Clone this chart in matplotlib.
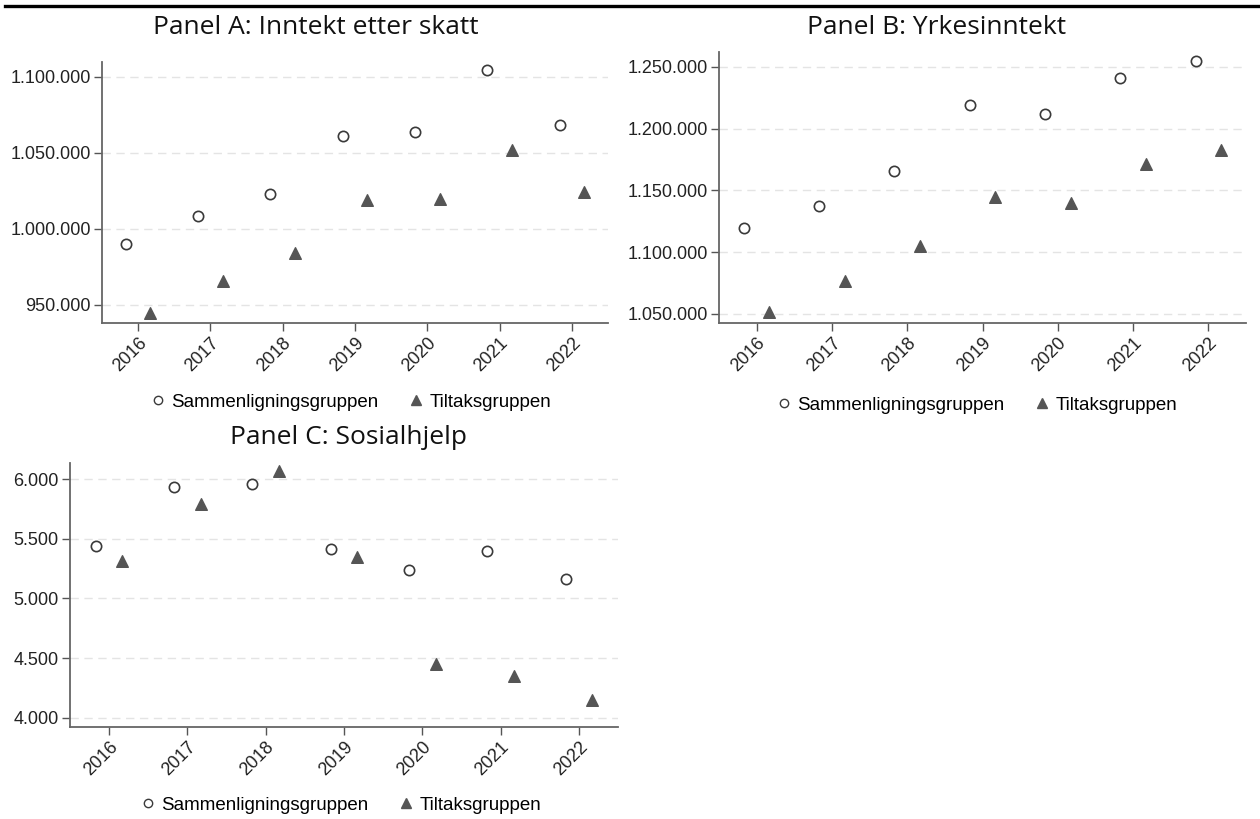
import matplotlib
matplotlib.use("Agg")
import matplotlib.pyplot as plt
from matplotlib.lines import Line2D
from matplotlib.ticker import FuncFormatter

# data (lest av fra figuren)
years = [2016, 2017, 2018, 2019, 2020, 2021, 2022]

inntekt_sammen = [990100, 1008300, 1023000, 1060700, 1063800, 1104400, 1068400]
inntekt_tiltak = [944300, 965600, 984200, 1018700, 1019700, 1051750, 1023900]

yrke_sammen = [1119650, 1137600, 1165600, 1219100, 1211800, 1241100, 1254600]
yrke_tiltak = [1051350, 1076600, 1105400, 1144600, 1140000, 1171500, 1182500]

sosial_sammen = [5438, 5936, 5955, 5413, 5242, 5396, 5161]
sosial_tiltak = [5312, 5790, 6067, 5346, 4452, 4352, 4151]

labels = ["Sammenligningsgruppen", "Tiltaksgruppen"]

W, H = 1260, 819
plt.rcParams["font.family"] = ["Liberation Sans", "DejaVu Sans"]

fig = plt.figure(figsize=(W / 100, H / 100), dpi=100)


def px_axes(left, right, top, bottom):
    return fig.add_axes([left / W, 1 - bottom / H, (right - left) / W, (bottom - top) / H])


def dotsep(v, pos):
    return f"{int(round(v)):,}".replace(",", ".")


def panel(ax, sammen, tiltak, yticks, ylim):
    off = 0.17
    ax.scatter([y - off for y in years], sammen, marker="o", s=55,
               facecolors="white", edgecolors="#3a3a3a", linewidths=1.2, zorder=3)
    ax.scatter([y + off for y in years], tiltak, marker="^", s=70,
               color="#555555", edgecolors="#555555", zorder=3)
    ax.set_xlim(2015.5, 2022.5)
    ax.set_ylim(*ylim)
    ax.set_xticks(years)
    ax.set_xticklabels([str(y) for y in years], rotation=45, ha="right",
                       rotation_mode="anchor")
    ax.set_yticks(yticks)
    ax.yaxis.set_major_formatter(FuncFormatter(dotsep))
    ax.tick_params(axis="both", labelsize=13, length=6, width=1,
                   color="#555555", labelcolor="#222222", pad=2)
    ax.grid(axis="y", color="#e4e4e4", linestyle=(0, (6, 4)), linewidth=1)
    ax.set_axisbelow(True)
    for s in ["top", "right"]:
        ax.spines[s].set_visible(False)
    for s in ["left", "bottom"]:
        ax.spines[s].set_color("#666666")
        ax.spines[s].set_linewidth(1.3)


def legend_at(cx, cy):
    handles = [
        Line2D([], [], marker="o", linestyle="none", markersize=6,
               markerfacecolor="white", markeredgecolor="#3a3a3a", markeredgewidth=1),
        Line2D([], [], marker="^", linestyle="none", markersize=7,
               color="#555555"),
    ]
    fig.legend(handles, labels, loc="center", bbox_to_anchor=(cx / W, 1 - cy / H),
               ncol=2, frameon=False, fontsize=13.5, handletextpad=0.2,
               columnspacing=1.5, handlelength=1.0)


title_font = ["Open Sans", "DejaVu Sans"]

# Panel A
axA = px_axes(102, 608, 62, 323)
panel(axA, inntekt_sammen, inntekt_tiltak,
      [950000, 1000000, 1050000, 1100000], (937950, 1109600))
fig.text(316 / W, 1 - 28 / H, "Panel A: Inntekt etter skatt", ha="center", va="center",
         fontsize=19, family=title_font, color="#111111")
legend_at(350, 402)

# Panel B
axB = px_axes(719, 1246, 52, 323)
panel(axB, yrke_sammen, yrke_tiltak,
      [1050000, 1100000, 1150000, 1200000, 1250000], (1042700, 1262100))
fig.text(937 / W, 1 - 28 / H, "Panel B: Yrkesinntekt", ha="center", va="center",
         fontsize=19, family=title_font, color="#111111")
legend_at(976, 405)

# Panel C
axC = px_axes(70, 618, 463, 727)
panel(axC, sosial_sammen, sosial_tiltak,
      [4000, 4500, 5000, 5500, 6000], (3924, 6134))
fig.text(348 / W, 1 - 438 / H, "Panel C: Sosialhjelp", ha="center", va="center",
         fontsize=19, family=title_font, color="#111111")
legend_at(340, 805)

# svart linje øverst
fig.add_artist(Line2D([5 / W, 1], [1 - 5.5 / H, 1 - 5.5 / H], color="black",
                      linewidth=2.4, transform=fig.transFigure))

fig.savefig("out.png", dpi=100)
